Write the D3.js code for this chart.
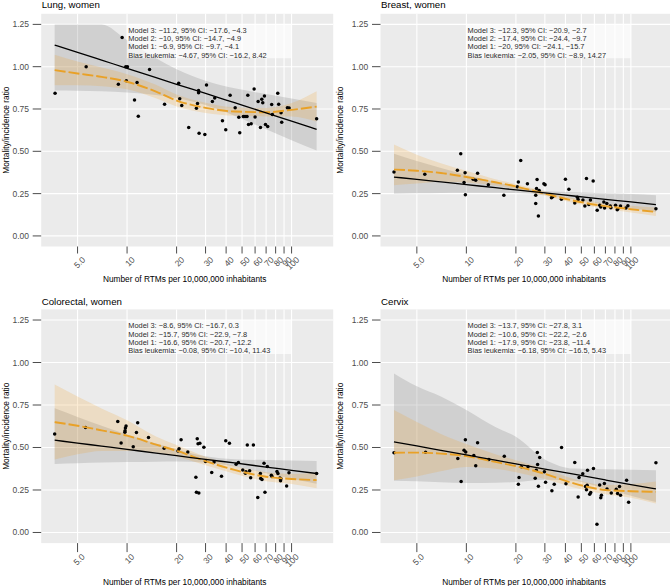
<!DOCTYPE html>
<html><head><meta charset="utf-8">
<script src="https://cdn.jsdelivr.net/npm/d3@7"></script>
<style>body{margin:0;background:#fff}svg{display:block;font-family:"Liberation Sans",Arial,Helvetica,sans-serif}</style>
</head><body><svg id="c" width="670" height="586"></svg>
<script>
// ---------------- data ----------------
const xTicks = [5,10,20,30,40,50,60,70,80,90,100];
const xTickLabels = ["5.0","10","20","30","40","50","60","70","80","90","100"];
const yTicks = [0,0.25,0.5,0.75,1,1.25];
const yTickLabels = ["0.00","0.25","0.50","0.75","1.00","1.25"];
const panelTitles = ["Lung, women","Breast, women","Colorectal, women","Cervix"];
const xTitle = "Number of RTMs per 10,000,000 inhabitants";
const yTitle = "Mortality/incidence ratio";

const lungNotes = ["Model 3: \u221211.2, 95% CI: \u221217.6, \u22124.3","Model 2: \u221210, 95% CI: \u221214.7, \u22124.9","Model 1: \u22126.9, 95% CI: \u22129.7, \u22124.1","Bias leukemia: \u22124.67, 95% CI: \u221216.2, 8.42"];
const breastNotes = ["Model 3: \u221212.3, 95% CI: \u221220.9, \u22122.7","Model 2: \u221217.4, 95% CI: \u221224.4, \u22129.7","Model 1: \u221220, 95% CI: \u221224.1, \u221215.7","Bias leukemia: \u22122.05, 95% CI: \u22128.9, 14.27"];
const colorectalNotes = ["Model 3: \u22128.6, 95% CI: \u221216.7, 0.3","Model 2: \u221215.7, 95% CI: \u221222.9, \u22127.8","Model 1: \u221216.6, 95% CI: \u221220.7, \u221212.2","Bias leukemia: \u22120.08, 95% CI: \u221210.4, 11.43"];
const cervixNotes = ["Model 3: \u221213.7, 95% CI: \u221227.8, 3.1","Model 2: \u221210.6, 95% CI: \u221222.2, \u22122.6","Model 1: \u221217.9, 95% CI: \u221223.8, \u221211.4","Bias leukemia: \u22126.18, 95% CI: \u221216.5, 5.43"];
const noteBoxX = [10,100];
const noteBoxY = [1.05,1.25];

// points
const lungX = [3.65,5.64,9.33,8.85,9.82,10.05,9.9,11.5,11.1,11.7,13.7,16.9,20.6,20.9,21.5,23.7,26.4,26.8,27.2,27.2,27.4,29.7,30.4,33.0,34.1,38.0,39.8,42.3,45.4,47.8,48.4,50.9,52.1,53.6,54.2,54.7,56.8,59.2,60.0,62.6,64.7,65.9,66.8,68.4,69.4,71.6,75.7,76.4,82.4,83.5,86.3,87.1,94.3,96.6,142];
const lungY = [0.843,1.00,1.173,0.896,1.00,1.00,0.917,0.907,0.803,0.707,0.984,0.778,0.902,0.811,0.770,0.640,0.754,0.783,0.860,0.846,0.606,0.600,0.892,0.795,0.815,0.681,0.628,0.831,0.758,0.701,0.610,0.705,0.705,0.705,0.831,0.659,0.663,0.868,0.703,0.795,0.640,0.807,0.787,0.827,0.659,0.646,0.776,0.717,0.843,0.778,0.728,0.671,0.758,0.756,0.693];
const breastX = [3.63,5.59,9.24,8.82,9.82,9.68,9.86,11.0,11.4,11.7,13.6,16.9,20.4,20.7,21.4,23.5,26.4,26.7,26.4,26.9,27.4,27.7,29.6,30.1,32.9,33.5,37.8,40.0,42.0,45.6,47.3,47.8,51.1,52.5,53.7,55.5,56.8,59.0,62.4,64.7,65.6,68.5,69.2,71.4,74.9,75.6,80.7,82.6,83.4,86.5,93.3,95.9,142];
const breastY = [0.378,0.364,0.486,0.388,0.374,0.315,0.244,0.335,0.329,0.370,0.303,0.240,0.291,0.319,0.445,0.309,0.240,0.280,0.191,0.333,0.118,0.268,0.309,0.303,0.226,0.232,0.217,0.335,0.276,0.195,0.228,0.215,0.213,0.177,0.339,0.185,0.213,0.325,0.152,0.181,0.171,0.201,0.165,0.191,0.177,0.167,0.181,0.154,0.161,0.177,0.165,0.179,0.161];
const colorectalX = [3.63,5.59,8.78,9.20,9.72,9.77,9.86,9.7,10.9,11.4,11.6,13.5,16.8,20.4,20.7,21.3,23.4,26.2,26.7,27.0,27.7,26.4,27.3,29.3,30.0,32.7,33.8,37.5,39.8,41.9,46.0,47.5,50.5,52.4,52.8,53.8,55.6,56.4,58.6,62.3,64.6,64.9,66.1,68.0,68.9,71.2,75.3,76.0,81.5,82.6,84.9,85.7,86.1,93.3,96.4,142];
const colorectalY = [0.580,0.618,0.653,0.527,0.598,0.614,0.627,0.590,0.504,0.588,0.645,0.559,0.496,0.480,0.492,0.545,0.473,0.325,0.551,0.522,0.525,0.237,0.233,0.502,0.418,0.353,0.414,0.331,0.539,0.525,0.402,0.412,0.367,0.349,0.357,0.514,0.363,0.322,0.514,0.206,0.347,0.318,0.312,0.408,0.237,0.388,0.337,0.329,0.359,0.347,0.320,0.304,0.316,0.273,0.351,0.347];
const cervixX = [3.63,5.65,9.29,9.68,9.86,9.91,8.87,11.1,11.4,11.7,13.7,17.0,20.7,20.9,21.6,23.7,26.2,26.6,27.0,27.1,27.4,27.9,29.8,30.3,33.1,34.2,37.9,40.3,45.6,47.8,48.4,51.0,53.0,53.7,54.2,56.2,57.0,54.5,59.2,62.2,64.6,65.6,66.2,69.0,71.6,76.0,81.5,83.0,85.3,86.5,94.2,96.9,142];
const cervixY = [0.469,0.472,0.300,0.484,0.545,0.474,0.435,0.453,0.392,0.528,0.429,0.449,0.284,0.323,0.386,0.386,0.319,0.366,0.471,0.400,0.272,0.441,0.357,0.296,0.245,0.284,0.500,0.286,0.412,0.209,0.323,0.345,0.270,0.252,0.278,0.225,0.235,0.366,0.376,0.048,0.280,0.205,0.219,0.288,0.256,0.233,0.254,0.229,0.270,0.219,0.307,0.178,0.410];

// fitted curves and bands (read at knots)
const fitX = [3.63,5,7,10,15,20,30,45,70,100,142];
const lungBlack = [1.128,1.085,1.039,0.990,0.935,0.896,0.842,0.787,0.727,0.678,0.630];
const lungOrange = [0.980,0.960,0.940,0.911,0.853,0.800,0.757,0.735,0.731,0.745,0.764];
const lungGrayHi = [1.25,1.25,1.25,1.157,1.05,0.985,0.917,0.872,0.839,0.812,0.786];
const lungGrayLo = [0.859,0.858,0.855,0.847,0.833,0.815,0.773,0.710,0.630,0.566,0.505];
const lungOrHi = [1.07,1.03,0.995,0.956,0.893,0.835,0.787,0.76,0.756,0.785,0.855];
const lungOrLo = [0.89,0.89,0.885,0.866,0.813,0.765,0.727,0.71,0.706,0.705,0.675];

const breastBlack = [0.348,0.334,0.319,0.303,0.285,0.272,0.254,0.236,0.216,0.201,0.185];
const breastOrange = [0.392,0.385,0.372,0.348,0.317,0.292,0.250,0.208,0.176,0.158,0.142];
const breastGrayHi = [0.486,0.443,0.401,0.360,0.319,0.292,0.266,0.258,0.252,0.248,0.241];
const breastGrayLo = [0.249,0.252,0.254,0.255,0.255,0.253,0.242,0.216,0.185,0.163,0.142];
const breastOrHi = [0.54,0.48,0.43,0.385,0.335,0.307,0.263,0.222,0.192,0.178,0.168];
const breastOrLo = [0.30,0.31,0.32,0.315,0.298,0.278,0.237,0.195,0.16,0.138,0.118];

const colorectalBlack = [0.543,0.526,0.508,0.489,0.467,0.452,0.430,0.409,0.385,0.366,0.347];
const colorectalOrange = [0.649,0.628,0.601,0.570,0.517,0.481,0.420,0.368,0.328,0.315,0.308];
const colorectalGrayHi = [0.731,0.680,0.628,0.577,0.524,0.490,0.448,0.431,0.426,0.424,0.420];
const colorectalGrayLo = [0.403,0.407,0.411,0.414,0.416,0.417,0.412,0.388,0.348,0.316,0.287];
const colorectalOrHi = [0.87,0.80,0.73,0.66,0.565,0.515,0.445,0.39,0.355,0.345,0.355];
const colorectalOrLo = [0.43,0.46,0.48,0.48,0.47,0.447,0.395,0.346,0.301,0.285,0.26];

const cervixBlack = [0.533,0.509,0.483,0.456,0.426,0.404,0.373,0.343,0.309,0.282,0.256];
const cervixOrange = [0.469,0.470,0.464,0.449,0.415,0.390,0.345,0.289,0.250,0.243,0.239];
const cervixGrayHi = [0.936,0.86,0.80,0.72,0.62,0.563,0.43,0.376,0.372,0.369,0.366];
const cervixGrayLo = [0.304,0.301,0.295,0.291,0.292,0.297,0.310,0.305,0.257,0.216,0.179];
const cervixOrHi = [0.72,0.65,0.58,0.52,0.46,0.425,0.375,0.315,0.28,0.285,0.30];
const cervixOrLo = [0.307,0.33,0.36,0.385,0.375,0.355,0.315,0.265,0.225,0.205,0.17];

// ---------------- layout ----------------
const svg = d3.select("#c");
const xDomain = [Math.pow(10,0.478), Math.pow(10,2.253)];
const yDomain = [-0.0625, 1.3125];
const panels = [
  {title:panelTitles[0], notes:lungNotes, px:lungX, py:lungY, black:lungBlack, orange:lungOrange, gHi:lungGrayHi, gLo:lungGrayLo, oHi:lungOrHi, oLo:lungOrLo,
   x0:41.2, x1:333.2, y0:246.5, y1:13.8, tickLen:7, lab:[8.3,6.8], titleY:7.6, xTitleY:282, yTitleX:8.5},
  {title:panelTitles[1], notes:breastNotes, px:breastX, py:breastY, black:breastBlack, orange:breastOrange, gHi:breastGrayHi, gLo:breastGrayLo, oHi:breastOrHi, oLo:breastOrLo,
   x0:380.5, x1:672.5, y0:246.5, y1:13.8, tickLen:7, lab:[8.3,6.8], titleY:7.6, xTitleY:282, yTitleX:343},
  {title:panelTitles[2], notes:colorectalNotes, px:colorectalX, py:colorectalY, black:colorectalBlack, orange:colorectalOrange, gHi:colorectalGrayHi, gLo:colorectalGrayLo, oHi:colorectalOrHi, oLo:colorectalOrLo,
   x0:41.2, x1:333.2, y0:543.1, y1:309.4, tickLen:9, lab:[7.8,5.4], titleY:305, xTitleY:584.5, yTitleX:8.5},
  {title:panelTitles[3], notes:cervixNotes, px:cervixX, py:cervixY, black:cervixBlack, orange:cervixOrange, gHi:cervixGrayHi, gLo:cervixGrayLo, oHi:cervixOrHi, oLo:cervixOrLo,
   x0:380.5, x1:672.5, y0:543.1, y1:309.4, tickLen:9, lab:[7.8,5.4], titleY:305, xTitleY:584.5, yTitleX:343}
];

const defs = svg.append("defs");
panels.forEach((p,i) => {
  const x = d3.scaleLog().domain(xDomain).range([p.x0,p.x1]);
  const y = d3.scaleLinear().domain(yDomain).range([p.y0,p.y1]);
  const g = svg.append("g");
  const cid = "clip"+i;
  defs.append("clipPath").attr("id",cid).append("rect")
    .attr("x",p.x0).attr("y",p.y1).attr("width",p.x1-p.x0).attr("height",p.y0-p.y1);

  g.append("rect").attr("x",p.x0).attr("y",p.y1).attr("width",p.x1-p.x0).attr("height",p.y0-p.y1).attr("fill","#EBEBEB");
  g.selectAll(".gx").data(xTicks).join("line")
    .attr("x1",d=>x(d)).attr("x2",d=>x(d)).attr("y1",p.y0).attr("y2",p.y1)
    .attr("stroke","#fff").attr("stroke-width",1.1);
  g.selectAll(".gy").data(yTicks).join("line")
    .attr("y1",d=>y(d)).attr("y2",d=>y(d)).attr("x1",p.x0).attr("x2",p.x1)
    .attr("stroke","#fff").attr("stroke-width",1.1);

  const plot = g.append("g").attr("clip-path",`url(#${cid})`);
  const idx = d3.range(fitX.length);
  const area = (hi,lo) => d3.area().curve(d3.curveMonotoneX)
    .x(k=>x(fitX[k])).y0(k=>y(lo[k])).y1(k=>y(hi[k]))(idx);
  const line = (arr) => d3.line().curve(d3.curveMonotoneX)
    .x(k=>x(fitX[k])).y(k=>y(arr[k]))(idx);

  plot.append("path").attr("d",area(p.gHi,p.gLo)).attr("fill","#808080").attr("fill-opacity",0.25);
  plot.append("path").attr("d",area(p.oHi,p.oLo)).attr("fill","#F2A22A").attr("fill-opacity",0.2);

  plot.append("rect").attr("x",x(noteBoxX[0])).attr("width",x(noteBoxX[1])-x(noteBoxX[0]))
    .attr("y",y(noteBoxY[1])).attr("height",y(noteBoxY[0])-y(noteBoxY[1]))
    .attr("fill","#fff").attr("fill-opacity",0.68);
  g.selectAll(".note").data(p.notes).join("text")
    .attr("x",x(noteBoxX[0])+1.2).attr("y",(d,j)=>y(noteBoxY[1])+8.3+j*8.3)
    .attr("font-size",7.4).attr("fill","#2a2a2a").text(d=>d);

  plot.selectAll(".pt").data(d3.range(p.px.length)).join("circle")
    .attr("cx",k=>x(p.px[k])).attr("cy",k=>y(p.py[k])).attr("r",1.75).attr("fill","#000");

  plot.append("path").attr("d",line(p.orange)).attr("fill","none").attr("stroke","#E9A127")
    .attr("stroke-width",1.9).attr("stroke-dasharray","11,3");
  plot.append("path").attr("d",line(p.black)).attr("fill","none").attr("stroke","#000")
    .attr("stroke-width",1.3);

  g.selectAll(".yt").data(yTicks).join("line")
    .attr("x1",p.x0-8.5).attr("x2",p.x0).attr("y1",d=>y(d)).attr("y2",d=>y(d))
    .attr("stroke","#4d4d4d").attr("stroke-width",1);
  g.selectAll(".yl").data(yTicks).join("text")
    .attr("x",p.x0-12.2).attr("y",d=>y(d)+3).attr("text-anchor","end")
    .attr("font-size",8.5).attr("fill","#4d4d4d").text((d,j)=>yTickLabels[j]);
  g.selectAll(".xt").data(xTicks).join("line")
    .attr("x1",d=>x(d)).attr("x2",d=>x(d)).attr("y1",p.y0).attr("y2",p.y0+p.tickLen)
    .attr("stroke","#4d4d4d").attr("stroke-width",1);
  g.selectAll(".xl").data(xTicks).join("text")
    .attr("transform",d=>`translate(${x(d)+p.lab[0]},${p.y0+p.tickLen+p.lab[1]}) rotate(-45)`)
    .attr("text-anchor","end").attr("font-size",8.5).attr("fill","#4d4d4d")
    .text((d,j)=>xTickLabels[j]);

  g.append("text").attr("x",p.x0+0.5).attr("y",p.titleY).attr("font-size",9.7).attr("fill","#000").text(p.title);
  g.append("text").attr("x",(p.x0+p.x1)/2 - 2.5).attr("y",p.xTitleY).attr("text-anchor","middle")
    .attr("font-size",8.3).attr("fill","#000").text(xTitle);
  g.append("text").attr("transform",`translate(${p.yTitleX},${(p.y0+p.y1)/2}) rotate(-90)`)
    .attr("text-anchor","middle").attr("font-size",8.3).attr("fill","#000").text(yTitle);
});
</script></body></html>
